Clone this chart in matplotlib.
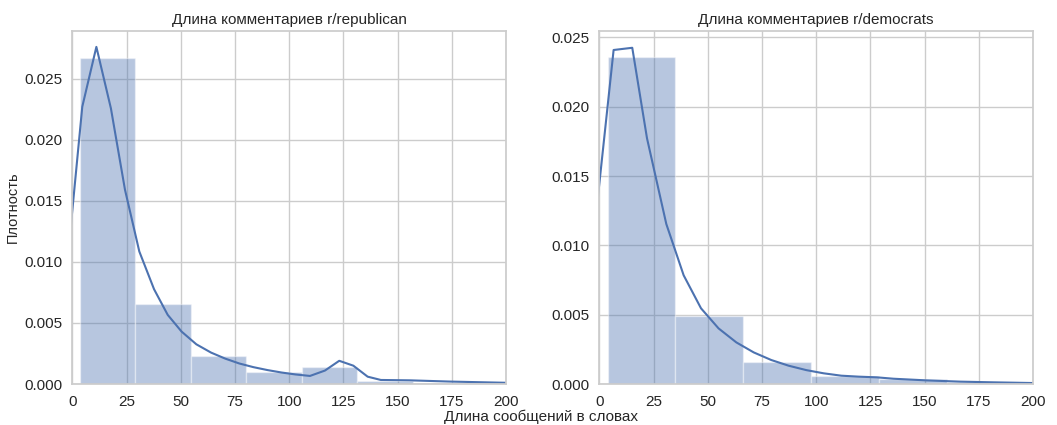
import numpy as np
import matplotlib
matplotlib.use("Agg")
import matplotlib.pyplot as plt
import seaborn as sns

sns.set_theme(style="whitegrid")
plt.rcParams['font.family'] = ['Liberation Sans', 'DejaVu Sans']

# histogram bins (left edges), bin width and densities
rep_edges = [3.5, 29.1, 54.7, 80.3, 105.9, 131.5, 157.1, 182.7]
rep_width = 25.6
rep_dens = [0.02669, 0.00653, 0.00232, 0.00101, 0.00142, 0.00025, 0.00012, 0.00008]

dem_edges = [3.8, 35.1, 66.4, 97.7, 129.0, 160.3, 191.6]
dem_width = 31.3
dem_dens = [0.02361, 0.00493, 0.00161, 0.00060, 0.00034, 0.00014, 0.00008]

# kde curves
rep_kde_x = [-2.0, 4.6, 11.1, 17.8, 24.3, 30.9, 37.7, 44.0, 50.4, 57.2, 64.0, 70.5,
             77.0, 83.5, 90.0, 96.5, 103.0, 109.6, 116.5, 123.1, 129.6, 136.2, 142.3,
             155.7, 174.0, 200.0, 210.0]
rep_kde_y = [0.0105, 0.0227, 0.0276, 0.02257, 0.0159, 0.01085, 0.00776, 0.00566,
             0.00429, 0.00325, 0.00257, 0.00208, 0.00168, 0.00138, 0.00114, 0.00094,
             0.00078, 0.00066, 0.0011, 0.0019, 0.0015, 0.0006, 0.00033, 0.0003,
             0.0002, 0.0001, 0.00009]

dem_kde_x = [-2.0, 6.6, 15.2, 22.0, 30.9, 38.9, 46.9, 55.0, 63.2, 71.2, 79.3, 87.3,
             95.5, 103.5, 111.6, 119.6, 128.0, 135.7, 151.0, 166.5, 182.0, 200.0, 210.0]
dem_kde_y = [0.0115, 0.02409, 0.02425, 0.01772, 0.01154, 0.00784, 0.00546, 0.00401,
             0.0030, 0.00228, 0.00173, 0.00132, 0.0010, 0.00077, 0.0006, 0.00053,
             0.00048, 0.00038, 0.00026, 0.00017, 0.00012, 0.00007, 0.00006]

titles = ["Длина комментариев r/republican", "Длина комментариев r/democrats"]
color = sns.color_palette()[0]

fig = plt.figure(figsize=(10.57, 4.25), dpi=100)
ax1 = fig.add_axes([72.3 / 1057, 41 / 425, 433.7 / 1057, 353 / 425])
ax2 = fig.add_axes([599.3 / 1057, 41 / 425, 433.7 / 1057, 353 / 425])

panels = [
    (ax1, rep_edges, rep_width, rep_dens, rep_kde_x, rep_kde_y, 0.0289),
    (ax2, dem_edges, dem_width, dem_dens, dem_kde_x, dem_kde_y, 0.02546),
]
for i, (ax, edges, w, dens, kx, ky, ytop) in enumerate(panels):
    ax.bar(edges, dens, width=w, align='edge', color=color, alpha=0.4,
           edgecolor='white', linewidth=1)
    ax.plot(kx, ky, color=color, linewidth=1.5)
    ax.set_xlim(0, 200)
    ax.set_ylim(0, ytop)
    ax.set_xticks([0, 25, 50, 75, 100, 125, 150, 175, 200])
    ax.set_yticks([0, 0.005, 0.010, 0.015, 0.020, 0.025])
    ax.set_yticklabels(["0.000", "0.005", "0.010", "0.015", "0.020", "0.025"])
    ax.tick_params(axis='x', labelsize=11, length=0, pad=8)
    ax.tick_params(axis='y', labelsize=11, length=0, pad=7)
    ax.set_title(titles[i], fontsize=11, pad=5)

ax1.set_ylabel("Плотность", fontsize=10.5)
ax1.yaxis.set_label_coords(-0.12, 0.5)
fig.text(0.512, 0.002, "Длина сообщений в словах", ha='center', va='bottom', fontsize=11)

fig.savefig("out.png", dpi=100)
